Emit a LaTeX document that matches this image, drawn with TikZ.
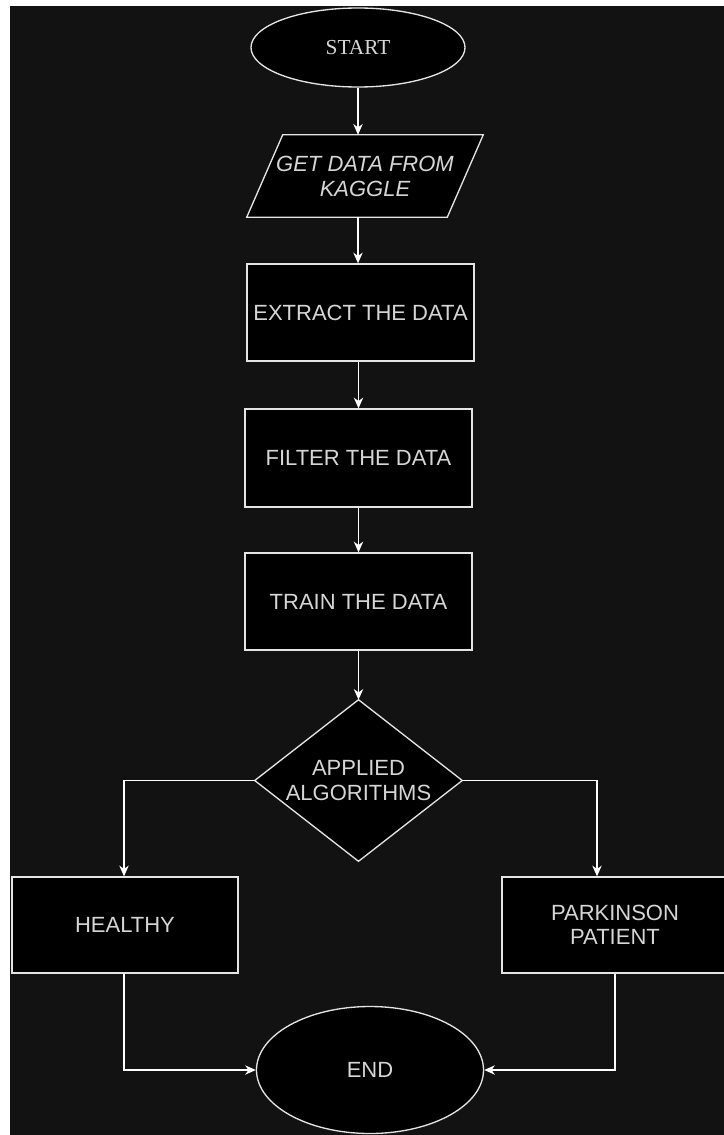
\documentclass[tikz,border=0pt]{standalone}
\usepackage{fontspec}
\setmainfont{Liberation Sans}
\newfontfamily\startserif{Liberation Serif}
\usetikzlibrary{shapes.geometric,arrows.meta}
\pgfdeclarelayer{bg}
\pgfsetlayers{bg,main}
\definecolor{pagebg}{HTML}{121212}
\definecolor{edgecol}{HTML}{E4E4E4}
\definecolor{txtcol}{HTML}{D6D6D6}
\tikzset{
  base/.style={draw=edgecol, fill=black, line width=1pt, text=txtcol, inner sep=0pt,
    font=\fontsize{16.5}{18.75}\selectfont, align=center},
  procbox/.style={base, rectangle},
  termnode/.style={base, ellipse},
  ghost/.style={inner sep=0pt, text=txtcol, align=center, font=\fontsize{16.5}{18.75}\selectfont},
  shapeline/.style={draw=edgecol, fill=black, line width=1pt},
  flow/.style={draw=white, line width=1.1pt, -{Stealth[length=8pt,width=7pt,inset=2.5pt]}},
  plainflow/.style={draw=white, line width=1.1pt}
}
\begin{document}
\begin{tikzpicture}[x=0.75pt,y=-0.75pt]
\useasboundingbox (0,0) rectangle (724,1135);
\begin{pgfonlayer}{bg}
\fill[white] (0,0) rectangle (724,1135);
\fill[pagebg] (10,6) rectangle (724,1135);
\end{pgfonlayer}

\node[termnode, minimum width=160.5pt, minimum height=59.25pt,
  font=\startserif\fontsize{16}{18}\selectfont] (start) at (358,47.5) {START};

\node[ghost, minimum width=150pt, minimum height=61.5pt,
  font=\itshape\fontsize{16.5}{18.75}\selectfont] (data) at (365,176) {GET DATA FROM\\KAGGLE};
\begin{pgfonlayer}{bg}
\draw[shapeline] ([xshift=-13.5pt]data.south west) -- ([xshift=-13.5pt]data.south east)
  -- ([xshift=13.5pt]data.north east) -- ([xshift=13.5pt]data.north west) -- cycle;
\end{pgfonlayer}

\node[procbox, minimum width=170.25pt, minimum height=72.75pt] (extract) at (360.5,312.5) {EXTRACT THE DATA};
\node[procbox, minimum width=170.25pt, minimum height=73.5pt] (filter) at (358.5,458) {FILTER THE DATA};
\node[procbox, minimum width=170.25pt, minimum height=72.75pt] (train) at (358.5,601.5) {TRAIN THE DATA};

\node[ghost, minimum width=155.25pt, minimum height=120.75pt] (dec) at (358.5,780.5) {APPLIED\\ALGORITHMS};
\begin{pgfonlayer}{bg}
\draw[shapeline] (dec.north) -- (dec.east) -- (dec.south) -- (dec.west) -- cycle;
\end{pgfonlayer}

\node[procbox, minimum width=169.5pt, minimum height=72pt] (healthy) at (125,925) {HEALTHY};
\node[procbox, minimum width=169.5pt, minimum height=72pt, font=\fontsize{16.5}{18}\selectfont] (park) at (615,925) {PARKINSON\\PATIENT};

\node[termnode, minimum width=170.25pt, minimum height=95.25pt] (end) at (370,1070) {END};

\draw[flow] (start.south) -- (start.south |- data.north);
\draw[flow] (start.south |- data.south) -- (start.south |- extract.north);
\draw[flow] ([xshift=-1.5pt]extract.south) -- ([xshift=-1.5pt]extract.south |- filter.north);
\draw[flow] (filter.south) -- (train.north);
\draw[flow] (train.south) -- (dec.north);
\draw[flow] (dec.west) -| ([xshift=-0.75pt]healthy.north);
\draw[flow] (dec.east) -| ([xshift=-13.5pt]park.north);
\draw[flow] ([xshift=-0.75pt]healthy.south) |- (end.west);
\draw[flow] (park.south) |- (end.east);
\end{tikzpicture}
\end{document}
